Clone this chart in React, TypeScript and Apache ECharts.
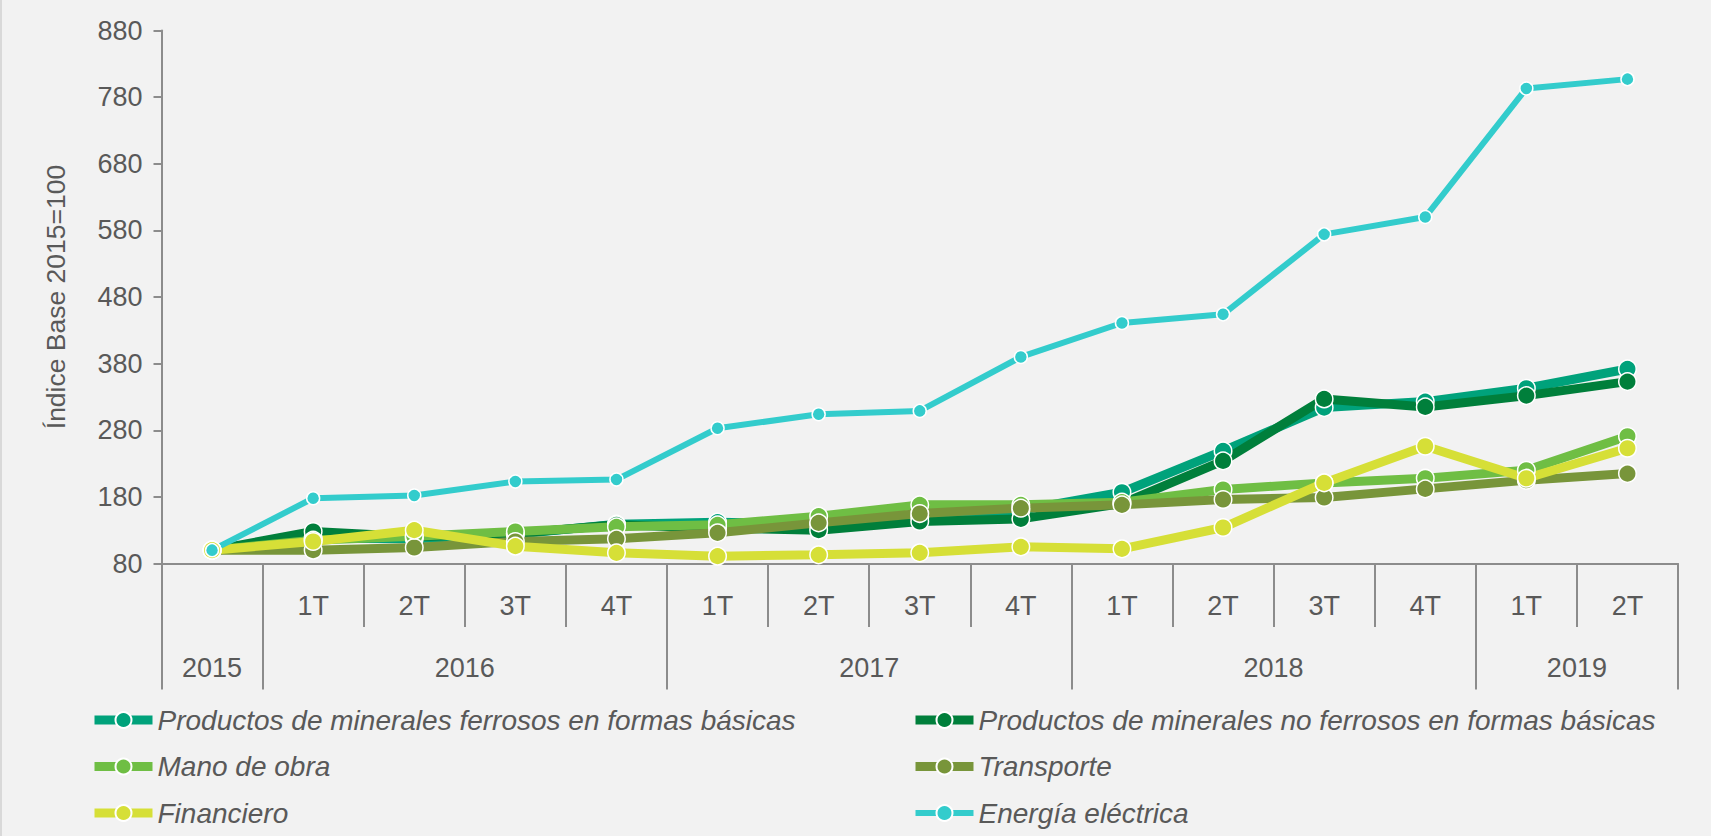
import React, { useEffect, useRef } from "react";
import * as echarts from "echarts";

// ---- Data ----
const categories = [
  "2015",
  "2016-1T", "2016-2T", "2016-3T", "2016-4T",
  "2017-1T", "2017-2T", "2017-3T", "2017-4T",
  "2018-1T", "2018-2T", "2018-3T", "2018-4T",
  "2019-1T", "2019-2T",
];
const quarterLabels = ["", "1T", "2T", "3T", "4T", "1T", "2T", "3T", "4T", "1T", "2T", "3T", "4T", "1T", "2T"];
const yearLabels = ["2015", "2016", "2017", "2018", "2019"];
const yearSpans = [1, 4, 4, 4, 2];
const yTicks = [80, 180, 280, 380, 480, 580, 680, 780, 880];

const seriesNames = [
  "Productos de minerales ferrosos en formas básicas",
  "Productos de minerales no ferrosos en formas básicas",
  "Mano de obra",
  "Transporte",
  "Financiero",
  "Energía eléctrica",
];
const ferrosos = [100, 118, 117, 124, 139, 142, 139, 150, 160, 187, 249, 314, 323, 343, 372];
const noFerrosos = [100, 128, 120, 125, 138, 133, 130, 143, 147, 170, 234, 327, 315, 332, 353];
const manoObra = [100, 115, 121, 128, 135, 138, 151, 168, 168, 172, 191, 201, 208, 220, 271];
const transporte = [100, 100, 104, 113, 117, 126, 141, 155, 163, 168, 176, 179, 192, 205, 215];
const financiero = [100, 113, 130, 106, 96, 91, 93, 96, 105, 102, 134, 201, 256, 208, 253];
const energia = [100, 178, 182, 203, 206, 283, 304, 309, 390, 441, 454, 574, 600, 793, 807];

const seriesData = [ferrosos, noFerrosos, manoObra, transporte, financiero, energia];
const colors = ["#00A27B", "#007F3B", "#6FBE44", "#78953A", "#D6DF37", "#33CCCC"];

const FONT = "'Liberation Sans', Arial, Helvetica, sans-serif";
const TXT = "#595959";
const AXIS = "#8C8C8C";

export default function App() {
  const ref = useRef<HTMLDivElement>(null);

  useEffect(() => {
    if (!ref.current) return;
    const chart = echarts.init(ref.current, undefined, { renderer: "svg" });

    // year group boundaries and centres in category units
    const yearBounds: number[] = [0];
    const yearCenters: number[] = [];
    yearSpans.forEach((s) => {
      const start = yearBounds[yearBounds.length - 1];
      yearCenters.push(start + s / 2);
      yearBounds.push(start + s);
    });

    const isEnergy = (i: number) => i === 5;
    const lineW = (i: number) => (isEnergy(i) ? 6 : 9);

    const series = seriesData.map((d, i) => ({
      name: seriesNames[i],
      type: "line",
      data: d,
      xAxisIndex: 0,
      symbol: "circle",
      symbolSize: isEnergy(i) ? 13 : 17.5,
      lineStyle: { width: lineW(i), color: colors[i] },
      itemStyle: { color: colors[i], borderColor: "#ffffff", borderWidth: 1.5 },
      emphasis: { disabled: true },
    }));

    const legendText = { color: TXT, fontSize: 28, fontStyle: "italic", fontFamily: FONT, lineHeight: 28 };
    const legendItems = (idx: number[]) =>
      idx.map((i) => ({ name: seriesNames[i], lineStyle: { width: lineW(i) } }));

    const legendBase = {
      orient: "vertical",
      top: 706,
      height: 130,
      padding: 0,
      itemWidth: 58,
      itemHeight: 20,
      itemGap: 18.5,
      textStyle: legendText,
      selectedMode: false,
    };

    chart.setOption({
      animation: false,
      backgroundColor: "#F2F2F2",
      textStyle: { fontFamily: FONT },
      grid: { left: 161.5, right: 33, top: 30.5, bottom: 272.5, containLabel: false, outerBoundsMode: "none" },
      xAxis: [
        {
          type: "category",
          data: categories,
          boundaryGap: true,
          position: "bottom",
          axisLine: { show: true, lineStyle: { color: AXIS, width: 2 } },
          axisTick: { show: true, interval: 0, length: 63.5, lineStyle: { color: AXIS, width: 2 } },
          axisLabel: {
            interval: 0,
            margin: 29,
            color: TXT,
            fontSize: 27,
            fontFamily: FONT,
            formatter: (_v: string, i: number) => quarterLabels[i],
          },
          splitLine: { show: false },
        },
        {
          type: "value",
          min: 0,
          max: categories.length,
          position: "bottom",
          axisLine: { show: false },
          axisTick: { show: true, customValues: yearBounds, length: 126, lineStyle: { color: AXIS, width: 2 } },
          axisLabel: {
            customValues: yearCenters,
            margin: 91,
            color: TXT,
            fontSize: 27,
            fontFamily: FONT,
            formatter: (v: number) => {
              const idx = yearCenters.indexOf(v);
              return idx >= 0 ? yearLabels[idx] : "";
            },
          },
          splitLine: { show: false },
        },
      ],
      yAxis: {
        type: "value",
        min: yTicks[0],
        max: yTicks[yTicks.length - 1],
        name: "Índice Base 2015=100",
        nameLocation: "middle",
        nameRotate: 90,
        nameGap: 92,
        nameTextStyle: { color: TXT, fontSize: 26.5, fontFamily: FONT },
        axisLine: { show: true, lineStyle: { color: AXIS, width: 2 } },
        axisTick: { show: true, length: 8, customValues: yTicks, lineStyle: { color: AXIS, width: 2 } },
        axisLabel: { customValues: yTicks, margin: 19, color: TXT, fontSize: 27, fontFamily: FONT },
        splitLine: { show: false },
      },
      legend: [
        { ...legendBase, left: 90, data: legendItems([0, 2, 4]) },
        { ...legendBase, left: 911, data: legendItems([1, 3, 5]) },
      ],
      graphic: [
        {
          type: "line",
          shape: { x1: 1, y1: 0, x2: 1, y2: 836 },
          style: { stroke: "#D9D9D9", lineWidth: 2 },
          silent: true,
        },
      ],
      series,
    });

    return () => chart.dispose();
  }, []);

  return (
    <div
      ref={ref}
      style={{ position: "fixed", left: 0, top: 0, width: 1711, height: 836 }}
    />
  );
}
